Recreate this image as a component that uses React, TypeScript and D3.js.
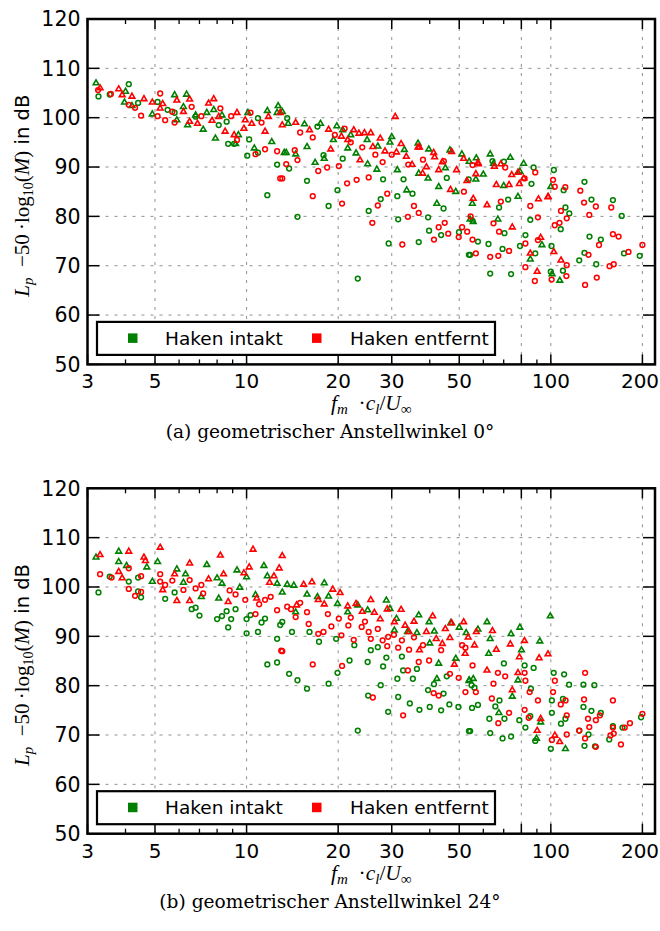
import React from 'react';
import * as d3 from 'd3';

const xMajorTicks = [3, 5, 10, 20, 30, 50, 80, 100, 200];
const xTickLabels = ['3', '5', '10', '20', '30', '50', '', '100', '200'];
const xMinorTicks = [4, 6, 7, 8, 9, 40, 60, 70, 90];
const yTicks = [50, 60, 70, 80, 90, 100, 110, 120];
const seriesNames = ['Haken intakt', 'Haken entfernt'];
const seriesColors = ['#008000', '#ff0000'];
const captions = ['(a) geometrischer Anstellwinkel 0°', '(b) geometrischer Anstellwinkel 24°'];

type P = [number, number];

// ---------- Panel (a): 0 deg ----------
const aGreenTri: P[] = [
  [3.2,107.0],[4.0,105.3],[3.97,103.1],[4.2,102.4],[4.9,100.7],[5.8,104.6],[6.35,104.7],[5.9,99.5],[6.2,102.2],[6.8,100.5],[6.4,98.5],[7.4,101.0],[7.8,101.6],[7.9,95.8],[7.2,97.6],[8.3,100.5],[9.2,94.7],[9.4,96.5],[10.1,101],[11.7,101.4],[12.7,102.4],[13.3,92.9],[10.6,93.8],[12.6,101],[12.1,95.1],
  [13.1,101.2],[13.7,98.8],[15.5,98.7],[15.8,94.1],[16.8,90.9],[14.5,92.6],[13.5,92.9],[19.8,98.3],[20.7,97.5],[18,91.7],[19.3,95.5],[21.5,93.8],[22.9,92.8],[24.9,95.5],[25,90.6],[26.8,89.5],[29.6,95],[30,96.1],[31.3,89.4],[33.6,85.3],[36.6,94.8],[36.8,88.7],[39.7,93.6],[39.5,87.7],[42.8,86],[42.2,82.6],[46.6,93.4],[48.7,85],[51,92.6],[53.9,91.1],[54.3,79.4],[55.2,82.6],
  [56.9,91.8],[63.2,92.6],[73.6,91.9],[64.8,90.7],[81.4,90.7],[79.1,89.1],[56.7,87.5],[100,86],[78,84],[67,79.4],[55.6,78.9],[93.5,74.2],[85.6,71.3],[101,68.3],[107,67],
  [17.5,98.8],[22,96.5],[27,94.2],[33,93.5],[45,89.8],[60,88.5],[70,86.2]
];
const aGreenCirc: P[] = [
  [3.26,104.3],[3.55,104.7],[4.1,106.8],[4.4,103],[5.1,103.2],[5.5,101.6],[5.8,101],[6.8,100.2],[8.1,98.5],[8.7,94.7],[9.1,94.7],[8.6,99.2],[10.05,92.3],[10.9,99.9],[11.7,84.3],[12.6,90.5],[10.2,95.6],[10.9,92.9],
  [13.6,99.9],[13.8,89.7],[14.7,79.9],[15.8,87.2],[17.1,98.2],[18.6,82.1],[17.9,92.4],[19.9,85.3],[20.7,91.7],[23.2,67.4],[25.2,81.1],[27.6,83.5],[28.1,87.5],[29.3,74.5],[31.5,79.4],[32.8,87.5],[31.3,84.1],[35.1,84.6],[36.8,74.8],[39.5,79.8],[39.8,77.1],[43.6,76.2],[45.5,87.8],[44.4,81.6],[49.9,76.8],[54.3,72.2],
  [64.3,91.2],[70.1,91.1],[87.8,89.9],[102.3,89.4],[129,87],[110.2,85.3],[86.4,86.6],[53.7,87.5],[72.4,83.4],[67.6,81.8],[136,83.4],[160,83.3],[111.7,81.8],[115,80.6],[171,80.1],[55.3,79.1],[85.6,79.3],[107.8,77.4],[134,75.9],[146,75.3],[70.4,76.6],[82.5,76.2],[57.6,74.9],[62.4,74.4],[69.4,73.4],[79.2,74],[88.9,72.5],[100.5,74],[129,72.6],[124,71.1],[141,70.3],[174,72.5],[196,72],[53.8,72.2],[63.2,68.4],[74,68.3],[100,68.8],[109.6,69]
];
const aRedTri: P[] = [
  [3.3,106],[3.8,105.8],[3.9,104.6],[4.2,104.3],[4.6,103.8],[4.9,103.1],[5.3,102.8],[5.2,101.9],[5.9,103.5],[6.5,103.7],[7.5,102.9],[7.8,103.8],[6.2,101.2],[6.5,99.2],[6.9,98.8],[7.7,99.4],[8.1,100.2],[8.5,97.2],[9.3,101],[9.1,96.5],[9.8,97.8],[9.9,99.5],[10.4,98.8],[11.5,97.2],[11.8,100.2],[12.9,101],[13.1,98.5],
  [14.5,99],[16.1,97.5],[18.6,97.6],[18.9,93.6],[23.4,96.8],[25.6,96.9],[24.4,96.9],[26,94.1],[23.6,91.4],[30.8,100.2],[31.1,93],[32.2,94.7],[37,94],[37.9,88.7],[41.2,92.9],[42.8,89.4],[47.2,93.1],[46.8,85.4],[51.7,91.7],
  [36.6,94],[41.5,92],[57.8,90.6],[68.5,90.6],[78,88.9],[98,84],
  [57.6,90.9],[56.7,88.6],[65.2,90.1],[66.2,86.4],[72.9,86.4],[74.4,88.4],[81.4,87.7],[78.8,86.6],[61.7,82.3],[55.6,83.6],[91.1,83.5],[97.9,83.9],[74.7,77.8],[92.6,75.7],[102.3,72.8],[85.6,72.5],[108,71.1],[90.2,68.8],
  [20.5,96.2],[21.5,95.5],[22.5,97.5],[27.5,95.8],[28.5,93.2],[33.5,92.1],[35,90.5],[39,90],[44,91],[49,89.4],[53,87.2]
];
const aRedCirc: P[] = [
  [3.25,105.6],[3.58,104.8],[4.1,102.6],[4.3,102],[4.5,100.4],[5.1,100.3],[5.2,104.9],[5.4,99.5],[5.7,101.2],[5.8,99],[6.6,102.2],[7.1,100.3],[8.2,101.9],[8.9,100.3],[9.3,95.5],[10.3,101],[11.2,99],[10.7,92.6],[11.5,93.6],[12.6,93.2],[12.9,87.7],
  [13.1,87.7],[13.5,90.6],[14.4,93.4],[14.7,91.4],[16.5,84.1],[17.2,89.2],[18.4,89.9],[20.6,82.6],[20.1,90.2],[21.4,86.7],[23,87.4],[25.2,87.9],[25.9,78.7],[27,82.2],[29,84.6],[32.5,74.3],[33.9,79.9],[35.5,82.1],[36.8,80.7],[41.3,75.3],[42.8,77.8],[44.8,78.7],[46,76.5],[49.8,75.8],[54.5,80],[44.5,91.2],
  [55.3,90.4],[70.8,89.9],[88.9,88.9],[82,87.7],[101.7,87.4],[103,86],[111.6,85.9],[125,85.2],[51.8,85],[68.5,83],[85.6,82.1],[108,81.1],[128.6,82.8],[140.6,82],[158,81.8],[133.8,80.3],[112.8,79.6],[90.7,79.8],[64.8,78.6],[106.8,78.7],[103,78.2],[51.1,77.8],[53.1,76.9],[67.6,76.9],[90.7,75.2],[160,76.4],[167,75.9],[144,74.2],[55.3,75.3],[56.7,72.5],[63.2,71.8],[67.2,72],[72.9,73],[82.5,74.5],[133,72.2],[180,72.8],[200,74.2],[156,69.9],[161,70.3],[82.5,69.7],[112.8,70.1],[88.6,66.9],[100.6,67.2],[112.5,67.9],[129.6,66.1],[141.6,67.6],
  [15,97],[16.5,96],[19.5,96.5],[21,97.8],[22,95],[24,94],[26.5,92.5],[28,91],[30,92.5],[34,90.5],[38,91.5]
];

// ---------- Panel (b): 24 deg ----------
const bGreenTri: P[] = [
  [3.2,106],[3.8,107.2],[3.8,105.1],[4.03,104.3],[4.7,104],[5.1,105.1],[4.9,101.1],[5.9,103.6],[6.3,102.6],[7.4,104.5],[6.2,100.9],[7.1,98],[8,101.8],[8.3,100.7],[9.3,103.4],[10,102],[9.5,99.9],[11.4,104.3],[11.7,102.2],[12.6,100.7],[13.1,98.9],[8.1,97.7],[10.7,98.4],
  [13.6,100.5],[14.3,100.3],[14.5,94.9],[15.8,98.5],[17.1,98],[18,100.8],[18.6,98.1],[19.9,96.6],[21.5,94.9],[23.2,96.3],[25,95.3],[28.8,97.3],[29.6,95.6],[31.1,93.6],[30.6,91.2],[33.8,90.9],[36.3,90.7],[36.8,94.3],[39.8,92.9],[41.4,91],[40,88.6],[42.8,84.5],[42.2,81.4],[46.9,92.7],[48.7,85.5],[50,91.8],[52.7,90.7],[53.9,81.1],
  [61.7,92.9],[57.6,91.4],[63.2,89.5],[74,90.5],[79.1,91.8],[92,89],[99.6,94.1],[80.1,87.2],[53.9,81],[55.6,81.4],[67.5,74.5],[74.7,77.8],[92.6,72.6],[89.7,69.3],[111.7,67.2],[78,81.1],[62.5,86.5]
];
const bGreenCirc: P[] = [
  [3.26,98.9],[3.55,102.1],[4.1,101.1],[4.4,99.1],[4.5,97.9],[4.4,101.9],[5.4,97.6],[5.8,98.9],[6.6,95.5],[6.8,95.8],[7.0,94.2],[8,93.5],[8.3,94.1],[8.6,95.1],[8.9,93.5],[9.2,95.5],[8.7,91.8],[10,93.5],[10,90.6],[10.3,94.3],[10.9,90.9],[11.2,92.8],[11.5,93.6],[12.6,89.5],[11.7,84.3],[12.6,84.7],[12.9,92.3],
  [13.1,92.9],[14.1,90.9],[13.8,82.4],[14.7,81.1],[15.8,79.4],[16.1,90.9],[17.3,88.9],[18.6,80.4],[19.7,89.5],[19.9,82.6],[21.8,85.1],[22.6,88.2],[23.2,70.9],[25,84.8],[25.1,78],[25.6,87.2],[27,87.8],[27.6,80.1],[28.1,83.9],[28.8,85.7],[29.2,74.7],[31.3,81.4],[31.5,77.7],[32.4,85.9],[32.7,83.1],[34.4,76.4],[35.2,81.4],[36.3,83.4],[37,75.1],[39.5,79.1],[40,75.7],[41.3,80.3],[43.6,75],[44.4,78.4],[45.5,81.9],[46.4,76.2],[49.7,75.7],[54.3,70.8],[54.9,80.1],
  [70.1,84.5],[82,84.1],[87.8,83.6],[102.2,82.6],[110.6,82.3],[114.8,80.2],[128,80.2],[139,80.1],[86,79.4],[56.1,79.6],[109.6,77.3],[100.8,77],[128,75.7],[136,74.9],[146,74.5],[198,73.6],[65.7,75.8],[70.4,73.3],[55.1,75.5],[57.6,76.1],[62.8,73.3],[67.8,77],[78.8,73],[82.5,71.5],[85.6,73.8],[100.8,74.5],[108,72.3],[111.7,73.3],[124,70.9],[133,70.1],[129,67.8],[139.7,67.7],[160,71.8],[172,71.5],[155.6,69.1],[53.8,70.8],[63.2,70.4],[69.4,69.3],[74,69.7],[88.9,68.8],[100,67.2]
];
const bRedTri: P[] = [
  [3.3,106.5],[4.1,107.2],[3.8,103.1],[3.9,101.8],[4.6,106],[4.65,105.3],[5.2,108],[5.3,99.4],[6.5,104.8],[5.8,102.6],[5.9,97.2],[6.5,97.2],[7.5,101.6],[8.2,106.4],[8.4,102.6],[8.7,97],[9.8,102.8],[10.5,107.6],[10.2,104],[10.8,97.7],[11.9,100.9],[12.3,102.2],[12.8,103.8],[13.1,106.3],
  [14.6,96.3],[15.4,100.5],[16.4,101],[17.2,97.4],[19.2,99.5],[20.3,98.8],[21.5,96.1],[22.9,96.6],[25.6,97.4],[26.3,94.8],[30.6,92.9],[32.2,95.4],[33.2,92.2],[34.2,90.9],[37,87.2],[39,90.9],[40.9,94.1],[42,89.5],[46.6,89.7],[47.2,92.7],[51.7,92.9],[48.2,84.3],
  [56.9,90.9],[64.3,91.1],[56.1,88.2],[52.3,86.5],[66.2,87.3],[73.6,88.4],[81.9,89.1],[78.8,85.8],[91.5,85.6],[97.9,86.4],[61.7,83.1],[78,82.6],[74.7,79.1],[92.6,73.3],[90.2,70.9],[103.1,69.9],[107,68.6],
  [18,96.5],[24,95],[27.5,93.5],[29,95.5],[35.5,93],[44,88.5],[45,91.5],[53.5,89.8]
];
const bRedCirc: P[] = [
  [3.3,102.6],[3.6,101.9],[4.1,103.8],[4.1,99.6],[4.3,98.2],[4.5,102.2],[4.5,99],[5.2,101.1],[5.2,102.6],[5.4,100.4],[5.7,101.3],[6.2,99.4],[6.5,101.4],[6.8,99.7],[7.1,100.4],[7.2,98.7],[8.8,99.3],[9.2,98.5],[9.9,97.4],[10.7,94.5],[11.5,97.4],[12.6,95.3],[13,87.1],
  [13.1,87],[13.6,96],[14.5,93.9],[15.8,94.9],[16.5,84.3],[17.2,90.5],[17.9,90.9],[20.1,93.6],[20.5,90.2],[20.6,84],[21.6,92.2],[22.5,89.3],[23.9,91.9],[25.2,90.9],[25.6,89.5],[26,77.6],[29,88],[29.2,89.9],[31.5,87.7],[32.4,89.2],[32.7,74],[33.9,83.1],[34.2,87.3],[36.8,84.8],[39.8,85.1],[41.2,78.5],[42.8,78],[43.6,87.2],[46.6,82.4],[49.8,81.6],[52.4,87.7],[52.4,78.7],
  [51.1,88.2],[55.3,84.1],[67,82.6],[70.8,81.9],[82,82.6],[82.5,81],[103.1,81],[129.6,82.6],[64.8,80.4],[56.7,78.7],[64,77.4],[85.2,78.7],[90.7,77],[101.7,78.7],[111.8,77],[107.8,76.2],[128.6,77.2],[160,77],[72.9,74.5],[82,75.1],[67.2,72.4],[84.6,73.5],[112.8,74],[132.5,73.3],[140.6,73],[145,74],[133.8,71.6],[182,72.4],[175,71.5],[200,74.3],[160,71.5],[124,70.9],[129.6,69.3],[157,69.9],[161,70.3],[170,68.1],[140.6,67.6],[100.8,69],[112.8,70.1],
  [11,96.5],[12,98],[14,95.5],[15,96.8],[16,92.5],[18.5,94.5],[19,92],[22,93.8],[24.5,93],[27,91.5],[28,89.2],[30.5,90.3],[35.5,89.8],[38,88.2]
];

const panels = [
  { gt: aGreenTri, gc: aGreenCirc, rt: aRedTri, rc: aRedCirc, caption: captions[0] },
  { gt: bGreenTri, gc: bGreenCirc, rt: bRedTri, rc: bRedCirc, caption: captions[1] },
];

const W = 660;
const H = 931;
const LEFT = 87.5;
const RIGHT = 655;
const PANEL_TOPS = [19, 488.3];
const PANEL_H = 345.4;

const SANS = 'DejaVu Sans, sans-serif';
const MATH = 'Liberation Serif, serif';
const CAP = 'DejaVu Serif, serif';

function Panel({ top, d }: { top: number; d: typeof panels[0] }) {
  const bottom = top + PANEL_H;
  const x = d3.scaleLog().domain([3, 220]).range([LEFT, RIGHT]);
  const y = d3.scaleLinear().domain([50, 120]).range([bottom, top]);
  const tri = d3.symbol().type(d3.symbolTriangle).size(14)() as string;
  const gridX = xMajorTicks.filter((t) => t !== 3);
  const gridY = yTicks.filter((t) => t !== 50 && t !== 120);
  const midX = (LEFT + RIGHT) / 2;
  const midY = (top + bottom) / 2;

  const circles = (pts: P[], color: string, key: string) =>
    pts.map((p, i) => (
      <circle key={key + i} cx={x(p[0])} cy={y(p[1])} r={2.4} fill="none" stroke={color} strokeWidth={1.5} />
    ));
  const tris = (pts: P[], color: string, key: string) =>
    pts.map((p, i) => (
      <path key={key + i} d={tri} transform={`translate(${x(p[0])},${y(p[1])})`} fill="none" stroke={color} strokeWidth={1.6} />
    ));

  return (
    <g>
      {/* grid */}
      {gridX.map((t) => (
        <line key={'gx' + t} x1={x(t)} x2={x(t)} y1={top} y2={bottom} stroke="#909090" strokeWidth={1} strokeDasharray="3,6" />
      ))}
      {gridY.map((t) => (
        <line key={'gy' + t} x1={LEFT} x2={RIGHT} y1={y(t)} y2={y(t)} stroke="#909090" strokeWidth={1} strokeDasharray="3,6" />
      ))}
      {/* data */}
      {tris(d.gt, seriesColors[0], 'gt')}
      {circles(d.gc, seriesColors[0], 'gc')}
      {tris(d.rt, seriesColors[1], 'rt')}
      {circles(d.rc, seriesColors[1], 'rc')}
      {/* ticks */}
      {xMajorTicks.map((t) => (
        <g key={'xt' + t}>
          <line x1={x(t)} x2={x(t)} y1={bottom} y2={bottom - 10} stroke="#000" strokeWidth={1.5} />
          <line x1={x(t)} x2={x(t)} y1={top} y2={top + 10} stroke="#000" strokeWidth={1.5} />
        </g>
      ))}
      {xMinorTicks.map((t) => (
        <g key={'xm' + t}>
          <line x1={x(t)} x2={x(t)} y1={bottom} y2={bottom - 5} stroke="#000" strokeWidth={1.3} />
          <line x1={x(t)} x2={x(t)} y1={top} y2={top + 5} stroke="#000" strokeWidth={1.3} />
        </g>
      ))}
      {yTicks.map((t) => (
        <g key={'yt' + t}>
          <line x1={LEFT} x2={LEFT + 12} y1={y(t)} y2={y(t)} stroke="#000" strokeWidth={1.5} />
          <line x1={RIGHT} x2={RIGHT - 12} y1={y(t)} y2={y(t)} stroke="#000" strokeWidth={1.5} />
        </g>
      ))}
      <rect x={LEFT} y={top} width={RIGHT - LEFT} height={bottom - top} fill="none" stroke="#000" strokeWidth={2.5} />
      {/* tick labels */}
      {xMajorTicks.map((t, i) => (
        <text key={'xl' + t} x={Math.min(x(t), 640)} y={bottom + 24} textAnchor="middle" fontFamily={SANS} fontSize={20}>
          {xTickLabels[i]}
        </text>
      ))}
      {yTicks.map((t) => (
        <text key={'yl' + t} x={LEFT - 7} y={y(t) + 7.4} textAnchor="end" fontFamily={SANS} fontSize={20.5}>
          {t}
        </text>
      ))}
      {/* legend */}
      <rect x={97} y={bottom - 42.5} width={398} height={33} fill="#fff" stroke="#000" strokeWidth={2.2} />
      <rect x={128} y={bottom - 31} width={9.5} height={9.5} fill={seriesColors[0]} />
      <text x={165} y={bottom - 19.8} fontFamily={SANS} fontSize={18.5}>{seriesNames[0]}</text>
      <rect x={312} y={bottom - 31} width={9.5} height={9.5} fill={seriesColors[1]} />
      <text x={350} y={bottom - 19.8} fontFamily={SANS} fontSize={18.5}>{seriesNames[1]}</text>
      {/* x label */}
      <text x={midX} y={bottom + 46} textAnchor="middle" fontFamily={MATH} fontSize={21.5}>
        <tspan fontStyle="italic">f</tspan>
        <tspan fontStyle="italic" fontSize={15} dy={4}>m</tspan>
        <tspan dy={-4}>{'\u2002·'}</tspan>
        <tspan fontStyle="italic">c</tspan>
        <tspan fontStyle="italic" fontSize={15} dy={4}>l</tspan>
        <tspan dy={-4}>/</tspan>
        <tspan fontStyle="italic">U</tspan>
        <tspan fontSize={15} dy={4}>∞</tspan>
      </text>
      {/* y label */}
      <text transform={`translate(29,${midY + 4}) rotate(-90)`} textAnchor="middle" fontFamily={MATH} fontSize={21}>
        <tspan fontStyle="italic">L</tspan>
        <tspan fontStyle="italic" fontSize={15} dy={4}>p</tspan>
        <tspan dy={-4}>{'\u2002−50\u2009·log'}</tspan>
        <tspan fontSize={14} dy={4}>10</tspan>
        <tspan dy={-4}>(</tspan>
        <tspan fontStyle="italic">M</tspan>
        <tspan>)</tspan>
        <tspan fontFamily={SANS} fontSize={19.5}>{' in dB'}</tspan>
      </text>
      {/* caption */}
      <text x={330} y={bottom + 74} textAnchor="middle" fontFamily={CAP} fontSize={18.6}>
        {d.caption}
      </text>
    </g>
  );
}

export default function App() {
  return (
    <svg width={W} height={H} viewBox={`0 0 ${W} ${H}`} style={{ position: 'absolute', left: 0, top: 0, background: '#fff' }}>
      <rect x={0} y={0} width={W} height={H} fill="#fff" />
      {panels.map((d, i) => (
        <Panel key={i} top={PANEL_TOPS[i]} d={d} />
      ))}
    </svg>
  );
}
